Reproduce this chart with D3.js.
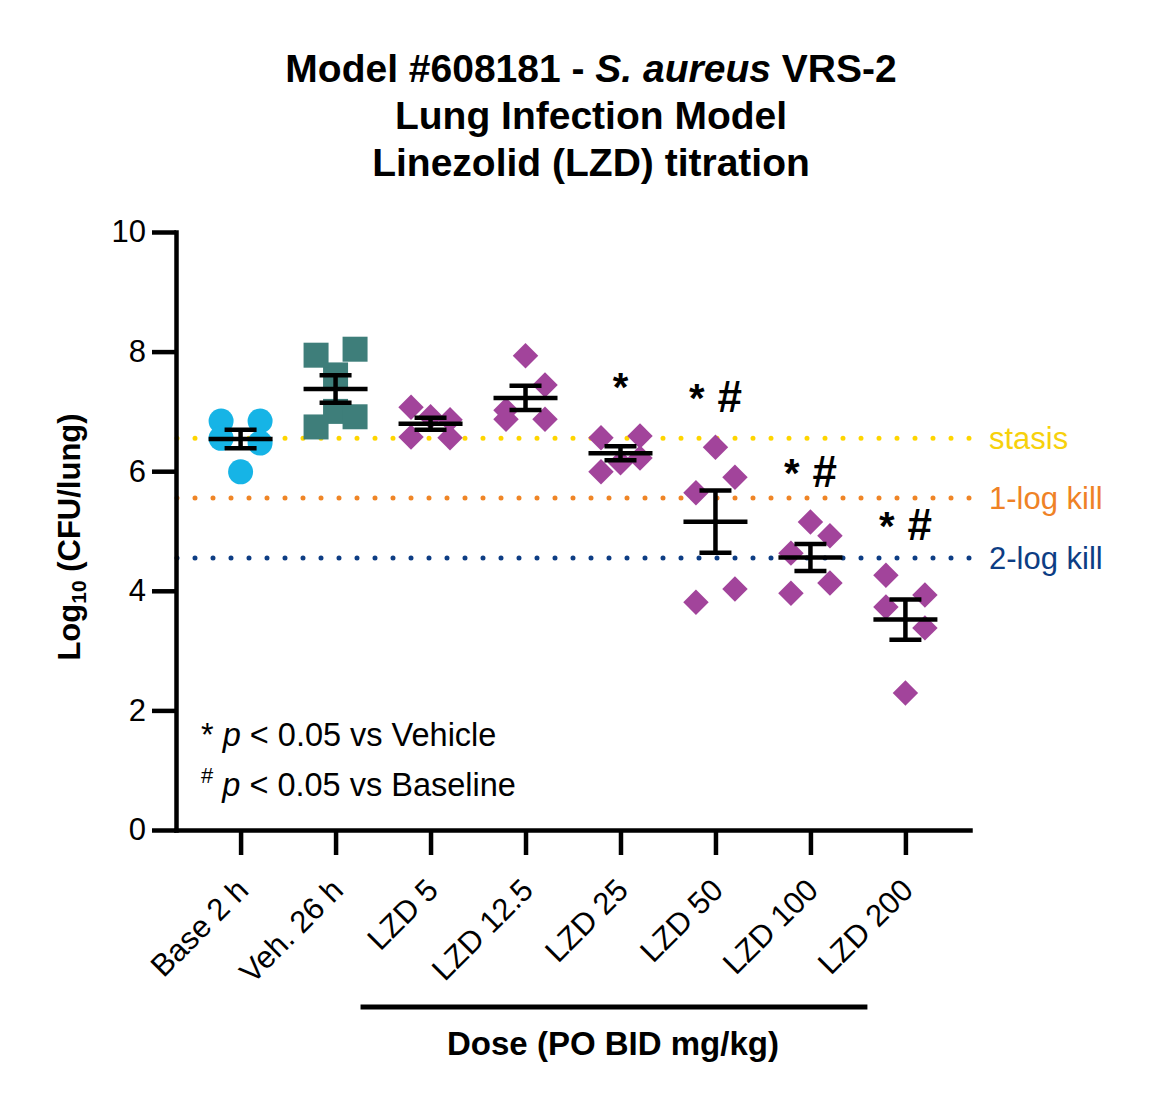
<!DOCTYPE html>
<html>
<head>
<meta charset="utf-8">
<script src="https://cdn.jsdelivr.net/npm/d3@7"></script>
<style>
  body { margin: 0; background: #fff; }
  svg { font-family: "Liberation Sans", Arial, Helvetica, sans-serif; }
</style>
</head>
<body>
<div id="chart"></div>
<script>
// groups on the x axis
var groups = ["Base 2 h", "Veh. 26 h", "LZD 5", "LZD 12.5", "LZD 25", "LZD 50", "LZD 100", "LZD 200"];

// log10 CFU/lung per animal
// (order inside a group only decides which side a point is pushed to)
var base2h  = [6.84, 6.84, 6.55, 6.47, 5.99];
var veh26h  = [7.61, 8.04, 7.94, 7.00, 6.91, 6.74];
var lzd5    = [6.91, 6.86, 7.07, 6.56, 6.57];
var lzd12_5 = [7.93, 6.87, 7.44, 7.02, 6.87];
var lzd25   = [6.14, 6.59, 6.56, 6.22, 5.99];
var lzd50   = [6.40, 5.64, 5.90, 3.81, 4.03];
var lzd100  = [5.15, 4.92, 4.63, 3.96, 4.13];
var lzd200  = [4.26, 3.93, 3.73, 3.38, 2.29];
var groupValues = [base2h, veh26h, lzd5, lzd12_5, lzd25, lzd50, lzd100, lzd200];

// significance marks: vs vehicle (*), vs baseline (#)
var sigVehicle  = [false, false, false, false, true, true, true, true];
var sigBaseline = [false, false, false, false, false, true, true, true];

// reference levels (baseline mean, -1 log, -2 log)
var refLevels = [6.55, 5.55, 4.55];
var refLabels = ["stasis", "1-log kill", "2-log kill"];

var yTicks = [0, 2, 4, 6, 8, 10];

var W = 1165, H = 1107;
var markerShape = ["circle", "square", "diamond", "diamond", "diamond", "diamond", "diamond", "diamond"];
var markerColor = ["#16b4e6", "#3e7e7a", "#a2449b", "#a2449b", "#a2449b", "#a2449b", "#a2449b", "#a2449b"];
var refColor = ["#ffd500", "#ef8526", "#0d3d84"];
var refTextColor = ["#f7d10c", "#ef8226", "#0d3d84"];

var svg = d3.select("#chart").append("svg")
  .attr("width", W)
  .attr("height", H);

var x = d3.scalePoint().domain(groups).range([176, 970]).padding(0.68);
var y = d3.scaleLinear().domain([0, 10]).range([830, 232]);

// title
var title = svg.append("text")
  .attr("text-anchor", "middle")
  .attr("font-weight", "bold")
  .attr("font-size", 39)
  .attr("fill", "#000");
var t1 = title.append("tspan").attr("x", 591).attr("y", 82);
t1.append("tspan").text("Model #608181 - ");
t1.append("tspan").attr("font-style", "italic").text("S. aureus");
t1.append("tspan").text(" VRS-2");
title.append("tspan").attr("x", 591).attr("y", 129).text("Lung Infection Model");
title.append("tspan").attr("x", 591).attr("y", 176).text("Linezolid (LZD) titration");

// reference dotted lines
refLevels.forEach(function (lv, i) {
  svg.append("line")
    .attr("x1", 177).attr("x2", 975)
    .attr("y1", y(lv)).attr("y2", y(lv))
    .attr("stroke", refColor[i])
    .attr("stroke-width", 5)
    .attr("stroke-linecap", "round")
    .attr("stroke-dasharray", "0,18");
  svg.append("text")
    .attr("x", 989).attr("y", y(lv))
    .attr("dy", "0.35em")
    .attr("font-size", 31)
    .attr("fill", refTextColor[i])
    .text(refLabels[i]);
});

// axes
var yAxis = svg.append("g")
  .attr("transform", "translate(176,0)")
  .call(d3.axisLeft(y).tickValues(yTicks).tickSize(24).tickSizeOuter(0).tickPadding(6));
var xAxis = svg.append("g")
  .attr("transform", "translate(0,830)")
  .call(d3.axisBottom(x).tickSize(25).tickSizeOuter(0));

[yAxis, xAxis].forEach(function (g) {
  g.select(".domain").attr("stroke", "#000").attr("stroke-width", 4.5).attr("stroke-linecap", "square");
  g.selectAll(".tick line").attr("stroke", "#000").attr("stroke-width", 4.5);
});
yAxis.selectAll(".tick text")
  .attr("font-size", 31).attr("fill", "#000")
  .attr("font-family", "Liberation Sans, Arial, sans-serif");
xAxis.selectAll(".tick text").remove();
xAxis.selectAll(".tick").append("text")
  .attr("text-anchor", "end")
  .attr("font-size", 31)
  .attr("fill", "#000")
  .attr("transform", "translate(9,62) rotate(-45)")
  .text(function (d) { return d; });

// y title
var yt = svg.append("text")
  .attr("transform", "translate(80,537) rotate(-90)")
  .attr("text-anchor", "middle")
  .attr("font-weight", "bold")
  .attr("font-size", 31)
  .attr("fill", "#000");
yt.append("tspan").text("Log");
yt.append("tspan").attr("font-size", 21).attr("dy", 6).text("10");
yt.append("tspan").attr("dy", -6).text(" (CFU/lung)");

// dose bracket
svg.append("line")
  .attr("x1", x("LZD 5") - 70).attr("x2", x("LZD 200") - 38)
  .attr("y1", 1007).attr("y2", 1007)
  .attr("stroke", "#000").attr("stroke-width", 5);
svg.append("text")
  .attr("x", (x("LZD 5") + x("LZD 200")) / 2 - 55)
  .attr("y", 1055)
  .attr("text-anchor", "middle")
  .attr("font-weight", "bold")
  .attr("font-size", 33)
  .text("Dose (PO BID mg/kg)");

// scatter spread: points closer than `gap` px chain into a cluster,
// cluster members are pushed alternately left/right (odd clusters keep one in the middle)
function spread(vals, gap, step) {
  var pts = vals.map(function (v, i) { return { v: v, py: y(v), i: i, dx: 0 }; });
  var sorted = pts.slice().sort(function (a, b) { return a.py - b.py; });
  var clusters = [];
  sorted.forEach(function (p) {
    var c = clusters[clusters.length - 1];
    if (c && p.py - c[c.length - 1].py < gap) c.push(p);
    else clusters.push([p]);
  });
  clusters.forEach(function (c) {
    c.sort(function (a, b) { return a.i - b.i; });
    var odd = c.length % 2 === 1;
    c.forEach(function (p, j) {
      if (odd) p.dx = j === 0 ? 0 : (j % 2 === 1 ? 1 : -1) * step;
      else p.dx = (j % 2 === 0 ? -1 : 1) * step;
    });
  });
  return pts;
}

var symCircle = d3.symbol().type(d3.symbolCircle).size(Math.PI * 12.5 * 12.5);
var symSquare = d3.symbol().type(d3.symbolSquare).size(25 * 25);
var symDiamond = d3.symbol().type(d3.symbolSquare).size(18 * 18);

groups.forEach(function (g, i) {
  var vals = groupValues[i];
  var cx = x(g);
  var pts = spread(vals, 28, 19.5);
  var shape = markerShape[i];
  var sym = shape === "circle" ? symCircle : shape === "square" ? symSquare : symDiamond;

  svg.append("g").selectAll("path").data(pts).enter().append("path")
    .attr("d", sym)
    .attr("fill", markerColor[i])
    .attr("transform", function (d) {
      return "translate(" + (cx + d.dx) + "," + d.py + ")" + (shape === "diamond" ? " rotate(45)" : "");
    });

  // mean +/- SEM
  var m = d3.mean(vals);
  var sem = d3.deviation(vals) / Math.sqrt(vals.length);
  var eb = svg.append("g").attr("stroke", "#000").attr("stroke-width", 4.5);
  eb.append("line").attr("x1", cx).attr("x2", cx).attr("y1", y(m + sem)).attr("y2", y(m - sem));
  eb.append("line").attr("x1", cx - 32).attr("x2", cx + 32).attr("y1", y(m)).attr("y2", y(m));
  eb.append("line").attr("x1", cx - 16).attr("x2", cx + 16).attr("y1", y(m + sem)).attr("y2", y(m + sem));
  eb.append("line").attr("x1", cx - 16).attr("x2", cx + 16).attr("y1", y(m - sem)).attr("y2", y(m - sem));

  if (sigVehicle[i] || sigBaseline[i]) {
    var st = svg.append("text")
      .attr("x", cx).attr("y", y(d3.max(vals)) - 35)
      .attr("text-anchor", "middle")
      .attr("font-weight", "bold")
      .attr("font-size", 40);
    if (sigVehicle[i]) st.append("tspan").text("*");
    if (sigBaseline[i]) st.append("tspan").attr("dx", 13).attr("font-size", 44).text("#");
  }
});

// note on the statistics
var n1 = svg.append("text").attr("x", 201).attr("y", 746).attr("font-size", 32.5);
n1.append("tspan").text("* ");
n1.append("tspan").attr("font-style", "italic").text("p");
n1.append("tspan").text(" < 0.05 vs Vehicle");
var n2 = svg.append("text").attr("x", 201).attr("y", 796).attr("font-size", 32.5);
n2.append("tspan").attr("font-size", 22).attr("dy", -13).text("#");
n2.append("tspan").attr("dy", 13).text(" ");
n2.append("tspan").attr("font-style", "italic").text("p");
n2.append("tspan").text(" < 0.05 vs Baseline");
</script>
</body>
</html>
